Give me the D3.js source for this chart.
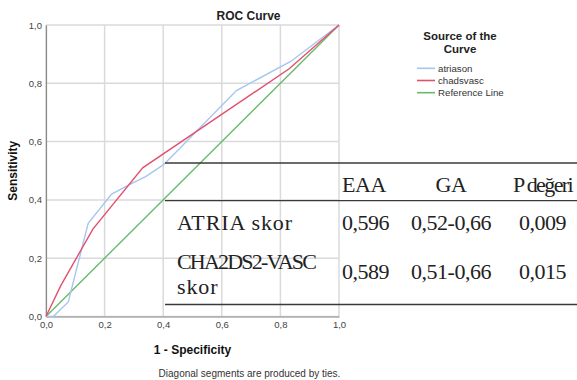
<!DOCTYPE html>
<html>
<head>
<meta charset="utf-8">
<script src="https://cdn.jsdelivr.net/npm/d3@7"></script>
<style>
  body { margin: 0; background: #fff; }
  svg { display: block; font-family: "Liberation Sans", Arial, sans-serif; }
</style>
</head>
<body>
<div id="chart"></div>
<script>
// curve points
var atriasonX = [0, 0.025, 0.076, 0.144, 0.224, 0.29, 0.34, 0.40, 0.43, 0.65, 0.835, 1];
var atriasonY = [0, 0, 0.05, 0.32, 0.42, 0.455, 0.48, 0.52, 0.55, 0.775, 0.875, 1];
var chadsvascX = [0, 0.05, 0.16, 0.33, 0.83, 1];
var chadsvascY = [0, 0.105, 0.30, 0.51, 0.85, 1];
var referenceX = [0, 1];
var referenceY = [0, 1];

var ticks = [0, 0.2, 0.4, 0.6, 0.8, 1];
var seriesNames = ["atriason", "chadsvasc", "Reference Line"];

// the table laid over the chart
var tableHeader = ["EAA", "GA", "P değeri"];
var rowNames = [["ATRIA skor"], ["CHA2DS2-VASC", "skor"]];
var eaaValues = ["0,596", "0,589"];
var gaValues = ["0,52-0,66", "0,51-0,66"];
var pValues = ["0,009", "0,015"];

function init() {
  var w = 577;
  var h = 380;

  var colors = ["#a5c6f0", "#e2506f", "#6db96b"];

  var svg = d3.select("#chart")
    .append("svg")
    .attr("width", w)
    .attr("height", h);

  var x = d3.scaleLinear().domain([0, 1]).range([46, 339]);
  var y = d3.scaleLinear().domain([0, 1]).range([316.5, 25]);

  var fmt = function(d) { return d3.format(".1f")(d).replace(".", ","); };

  // grid
  svg.append("g")
    .selectAll("line.vg")
    .data(ticks)
    .enter()
    .append("line")
    .attr("x1", function(d) { return x(d); })
    .attr("x2", function(d) { return x(d); })
    .attr("y1", y(0))
    .attr("y2", y(1))
    .attr("stroke", "#dadada")
    .attr("stroke-width", 1.5);

  svg.append("g")
    .selectAll("line.hg")
    .data(ticks)
    .enter()
    .append("line")
    .attr("x1", x(0))
    .attr("x2", x(1))
    .attr("y1", function(d) { return y(d); })
    .attr("y2", function(d) { return y(d); })
    .attr("stroke", "#dadada")
    .attr("stroke-width", 1.5);

  // axes
  var xAxis = d3.axisBottom(x).tickValues(ticks).tickSize(0).tickPadding(5).tickFormat(fmt);
  var yAxis = d3.axisLeft(y).tickValues(ticks).tickSize(0).tickPadding(4).tickFormat(fmt);

  var gx = svg.append("g")
    .attr("transform", "translate(0," + y(0) + ")")
    .call(xAxis);
  var gy = svg.append("g")
    .attr("transform", "translate(" + x(0) + ",0)")
    .call(yAxis);

  [gx, gy].forEach(function(g) {
    g.select(".domain").attr("stroke", "#8a8a8a").attr("stroke-width", 1.2);
    g.selectAll("text")
      .attr("fill", "#444")
      .style("font-size", "9.5px")
      .style("font-family", "'Liberation Sans', Arial, sans-serif");
  });

  // curves
  var line = d3.line()
    .x(function(d) { return x(d[0]); })
    .y(function(d) { return y(d[1]); });

  var series = [
    d3.zip(atriasonX, atriasonY),
    d3.zip(chadsvascX, chadsvascY),
    d3.zip(referenceX, referenceY)
  ];

  svg.selectAll("path.curve")
    .data([series[2], series[0], series[1]])
    .enter()
    .append("path")
    .attr("class", "curve")
    .attr("fill", "none")
    .attr("stroke", function(d, i) { return [colors[2], colors[0], colors[1]][i]; })
    .attr("stroke-width", 1.4)
    .attr("d", line);

  // titles
  svg.append("text")
    .attr("x", 248.5)
    .attr("y", 19.5)
    .attr("text-anchor", "middle")
    .style("font-size", "12px")
    .style("font-weight", "bold")
    .attr("fill", "#222")
    .text("ROC Curve");

  svg.append("text")
    .attr("transform", "translate(17," + y(0.5) + ") rotate(-90)")
    .attr("text-anchor", "middle")
    .style("font-size", "12px")
    .style("font-weight", "bold")
    .attr("fill", "#111")
    .text("Sensitivity");

  svg.append("text")
    .attr("x", x(0.5))
    .attr("y", 353.5)
    .attr("text-anchor", "middle")
    .style("font-size", "12px")
    .style("font-weight", "bold")
    .attr("fill", "#111")
    .text("1 - Specificity");

  svg.append("text")
    .attr("x", 249.5)
    .attr("y", 376.5)
    .attr("text-anchor", "middle")
    .style("font-size", "10px")
    .attr("fill", "#333")
    .text("Diagonal segments are produced by ties.");

  // legend
  var legend = svg.append("g").attr("class", "legend");
  legend.append("text")
    .attr("x", 460)
    .attr("y", 40)
    .attr("text-anchor", "middle")
    .style("font-size", "11.5px")
    .style("font-weight", "bold")
    .attr("fill", "#222")
    .text("Source of the");
  legend.append("text")
    .attr("x", 460)
    .attr("y", 52.5)
    .attr("text-anchor", "middle")
    .style("font-size", "11.5px")
    .style("font-weight", "bold")
    .attr("fill", "#222")
    .text("Curve");

  var item = legend.selectAll("g.item")
    .data(seriesNames)
    .enter()
    .append("g")
    .attr("class", "item")
    .attr("transform", function(d, i) { return "translate(0," + (68.3 + i * 12.2) + ")"; });
  item.append("line")
    .attr("x1", 417)
    .attr("x2", 435)
    .attr("stroke", function(d, i) { return colors[i]; })
    .attr("stroke-width", 1.6);
  item.append("text")
    .attr("x", 438)
    .attr("y", 3.5)
    .style("font-size", "9.7px")
    .attr("fill", "#333")
    .text(function(d) { return d; });

  // table
  var table = svg.append("g")
    .style("font-family", "'Liberation Serif', 'Times New Roman', serif")
    .style("font-size", "22px")
    .attr("fill", "#222");

  [163, 200.7, 304.5].forEach(function(ly) {
    table.append("line")
      .attr("x1", 165)
      .attr("x2", w)
      .attr("y1", ly)
      .attr("y2", ly)
      .attr("stroke", "#3a3a3a")
      .attr("stroke-width", 1.3);
  });

  var colX = [342, 451, 542.5];
  var colAnchor = ["start", "middle", "middle"];

  table.selectAll("text.head")
    .data(tableHeader)
    .enter()
    .append("text")
    .attr("x", function(d, i) { return colX[i]; })
    .attr("y", 192)
    .attr("text-anchor", function(d, i) { return colAnchor[i]; })
    .style("letter-spacing", function(d, i) { return i == 2 ? "-1.6px" : "-0.4px"; })
    .text(function(d) { return d; });

  var rowY = [230, 278.5];
  var nameY = [[230], [268.5, 293.5]];

  rowNames.forEach(function(names, r) {
    names.forEach(function(n, k) {
      table.append("text")
        .attr("x", 177)
        .attr("y", nameY[r][k])
        .style("letter-spacing", n.length > 10 ? "-1.8px" : "0.9px")
        .text(n);
    });
    [eaaValues, gaValues, pValues].forEach(function(vals, c) {
      table.append("text")
        .attr("x", colX[c])
        .attr("y", rowY[r])
        .attr("text-anchor", colAnchor[c])
        .style("letter-spacing", "-0.5px")
        .text(vals[r]);
    });
  });
}

window.onload = init;
</script>
</body>
</html>
